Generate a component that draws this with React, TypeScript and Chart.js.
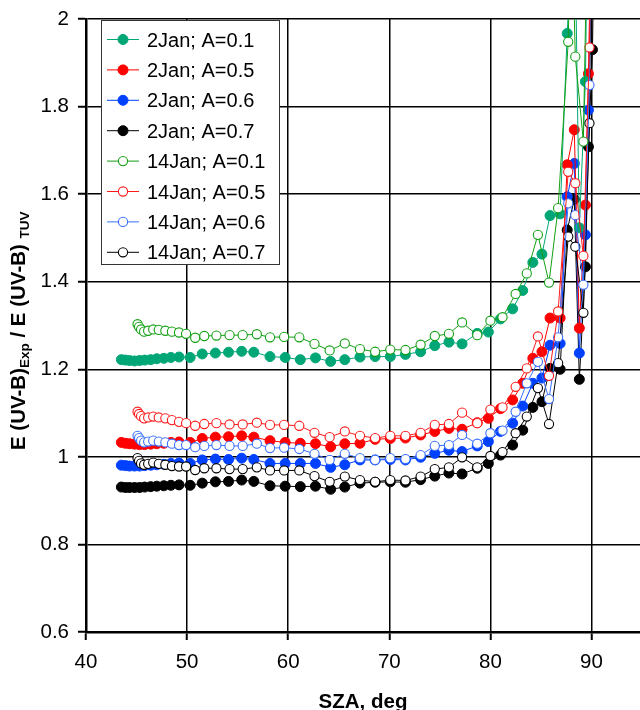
import React, { useEffect, useRef } from 'react';
import { Chart, registerables } from 'chart.js';

Chart.register(...registerables);

const FONT = '"Liberation Sans", Arial, Helvetica, sans-serif';

// Tick values
const xTicks = [40, 50, 60, 70, 80, 90];
const yTicks = [0.6, 0.8, 1, 1.2, 1.4, 1.6, 1.8, 2];

// Series labels
const seriesLabels = [
  '2Jan; A=0.1',
  '2Jan; A=0.5',
  '2Jan; A=0.6',
  '2Jan; A=0.7',
  '14Jan; A=0.1',
  '14Jan; A=0.5',
  '14Jan; A=0.6',
  '14Jan; A=0.7',
];

// SZA values (deg), 2 January
const sza2Jan = [
  43.5, 43.9, 44.3, 44.8, 45.3, 45.8, 46.4, 47.0, 47.7, 48.4, 49.2, 50.3,
  51.5, 52.8, 54.1, 55.4, 56.6, 58.2, 59.7, 61.2, 62.7, 64.2, 65.6, 67.1,
  68.6, 70.1, 71.6, 73.1, 74.5, 75.9, 77.2, 78.7, 79.8, 81.0, 82.2, 83.2,
  84.2, 85.1, 85.9, 86.9, 87.6, 88.3, 88.8, 89.4, 89.7, 90.1, 90.4,
];

const jan2A01 = [
  1.222, 1.221, 1.220, 1.219, 1.220, 1.221, 1.222, 1.224, 1.225, 1.227, 1.228, 1.227,
  1.235, 1.237, 1.239, 1.241, 1.239, 1.229, 1.227, 1.222, 1.226, 1.218, 1.222, 1.228,
  1.229, 1.229, 1.234, 1.240, 1.254, 1.262, 1.258, 1.282, 1.285, 1.315, 1.338, 1.380,
  1.444, 1.463, 1.551, 1.555, 1.967, 2.300, 1.523, 1.857, 2.400, null, null,
];
const jan2A05 = [
  1.033, 1.031, 1.030, 1.029, 1.028, 1.028, 1.029, 1.030, 1.031, 1.033, 1.034, 1.033,
  1.042, 1.045, 1.046, 1.048, 1.045, 1.037, 1.033, 1.031, 1.030, 1.023, 1.030, 1.031,
  1.040, 1.042, 1.043, 1.050, 1.058, 1.065, 1.063, 1.078, 1.088, 1.110, 1.130, 1.168,
  1.225, 1.240, 1.317, 1.317, 1.667, 1.747, 1.294, 1.575, 1.875, 2.400, null,
];
const jan2A06 = [
  0.981, 0.980, 0.979, 0.979, 0.979, 0.980, 0.981, 0.982, 0.983, 0.985, 0.986, 0.985,
  0.993, 0.995, 0.994, 0.997, 0.994, 0.985, 0.985, 0.985, 0.985, 0.976, 0.982, 0.993,
  0.993, 0.994, 0.993, 0.999, 1.008, 1.015, 1.012, 1.025, 1.035, 1.058, 1.077, 1.116,
  1.168, 1.180, 1.255, 1.259, 1.594, 1.670, 1.237, 1.507, 1.792, 2.400, null,
];
const jan2A07 = [
  0.931, 0.930, 0.930, 0.930, 0.930, 0.931, 0.932, 0.933, 0.934, 0.935, 0.936, 0.935,
  0.940, 0.943, 0.944, 0.947, 0.944, 0.934, 0.933, 0.932, 0.933, 0.926, 0.931, 0.940,
  0.942, 0.943, 0.942, 0.948, 0.956, 0.963, 0.961, 0.974, 0.985, 1.004, 1.027, 1.061,
  1.113, 1.126, 1.202, 1.200, 1.518, 1.588, 1.177, 1.434, 1.708, 1.930, 2.400,
];

// SZA values (deg), 14 January
const sza14Jan = [
  45.1, 45.25, 45.45, 45.75, 46.15, 46.65, 47.2, 47.85, 48.5, 49.2, 49.9, 50.8,
  51.7, 52.9, 54.2, 55.5, 56.9, 58.2, 59.6, 61.1, 62.6, 64.1, 65.6, 67.1,
  68.6, 70.1, 71.6, 73.1, 74.5, 75.9, 77.2, 78.7, 80.0, 81.2, 82.5, 83.6,
  84.7, 85.8, 86.7, 87.7, 88.0, 88.4, 89.2, 89.8, 90.1,
];

const jan14A01 = [
  1.303, 1.297, 1.291, 1.286, 1.288, 1.291, 1.290, 1.288, 1.286, 1.284, 1.281, 1.272,
  1.276, 1.277, 1.278, 1.278, 1.280, 1.273, 1.274, 1.273, 1.258, 1.243, 1.259, 1.246,
  1.240, 1.245, 1.244, 1.256, 1.276, 1.281, 1.307, 1.278, 1.311, 1.319, 1.372, 1.419,
  1.507, 1.398, 1.568, 1.948, 2.300, 1.914, 1.720, 2.500, null,
];
const jan14A05 = [
  1.103, 1.098, 1.093, 1.088, 1.090, 1.092, 1.090, 1.088, 1.084, 1.080, 1.077, 1.071,
  1.075, 1.077, 1.074, 1.074, 1.078, 1.073, 1.073, 1.071, 1.055, 1.045, 1.058, 1.048,
  1.043, 1.048, 1.048, 1.055, 1.073, 1.075, 1.101, 1.077, 1.108, 1.113, 1.160, 1.202,
  1.275, 1.185, 1.332, 1.651, null, 1.625, 1.459, 1.935, 2.500,
];
const jan14A06 = [
  1.048, 1.043, 1.037, 1.033, 1.035, 1.037, 1.035, 1.033, 1.030, 1.027, 1.027, 1.022,
  1.025, 1.027, 1.025, 1.025, 1.030, 1.020, 1.021, 1.018, 1.007, 0.993, 1.007, 0.997,
  0.993, 0.997, 0.995, 1.004, 1.025, 1.027, 1.050, 1.030, 1.054, 1.060, 1.103, 1.168,
  1.217, 1.132, 1.273, 1.579, null, 1.552, 1.393, 1.849, 2.500,
];
const jan14A07 = [
  0.997, 0.991, 0.985, 0.982, 0.984, 0.987, 0.984, 0.982, 0.979, 0.978, 0.978, 0.970,
  0.974, 0.974, 0.972, 0.972, 0.976, 0.969, 0.969, 0.969, 0.956, 0.943, 0.955, 0.947,
  0.943, 0.947, 0.946, 0.955, 0.972, 0.976, 0.999, 0.976, 1.002, 1.011, 1.054, 1.092,
  1.157, 1.075, 1.214, 1.503, null, 1.480, 1.329, 1.762, 2.500,
];

const lineColors = ['#00a676', '#ff0000', '#0040ff', '#000000', '#12a012', '#ff1a1a', '#3a70ff', '#000000'];

function toPoints(xs: number[], ys: (number | null)[]) {
  const out: { x: number; y: number }[] = [];
  xs.forEach((x, i) => {
    const y = ys[i];
    if (y !== null && y !== undefined) out.push({ x, y });
  });
  return out;
}

function filledDataset(i: number, xs: number[], ys: (number | null)[]) {
  const c = lineColors[i];
  return {
    label: seriesLabels[i],
    data: toPoints(xs, ys),
    showLine: true,
    borderColor: c,
    backgroundColor: c,
    borderWidth: 1,
    pointRadius: 5,
    pointBorderWidth: 1,
    pointBackgroundColor: c,
    pointBorderColor: c,
    order: 1,
  };
}

function openDataset(i: number, xs: number[], ys: (number | null)[]) {
  const c = lineColors[i];
  return {
    label: seriesLabels[i],
    data: toPoints(xs, ys),
    showLine: true,
    borderColor: c,
    backgroundColor: '#ffffff',
    borderWidth: 1,
    pointRadius: 4.6,
    pointBorderWidth: 1.1,
    pointBackgroundColor: '#ffffff',
    pointBorderColor: c,
    order: 0,
  };
}

const legendPlugin = {
  id: 'boxLegend',
  afterDraw(chart: any) {
    const ctx = chart.ctx as CanvasRenderingContext2D;
    ctx.save();
    const left = 101.5, top = 20.5, w = 178, h = 244;
    ctx.fillStyle = '#ffffff';
    ctx.fillRect(left, top, w, h);
    ctx.strokeStyle = '#333333';
    ctx.lineWidth = 1;
    ctx.strokeRect(left, top, w, h);
    chart.data.datasets.forEach((ds: any, i: number) => {
      const y = 39.5 + i * 30.4;
      ctx.strokeStyle = ds.borderColor;
      ctx.lineWidth = 1;
      ctx.beginPath();
      ctx.moveTo(107, y);
      ctx.lineTo(139, y);
      ctx.stroke();
      ctx.beginPath();
      ctx.arc(123, y, ds.pointRadius, 0, Math.PI * 2);
      ctx.fillStyle = ds.pointBackgroundColor;
      ctx.fill();
      ctx.lineWidth = ds.pointBorderWidth;
      ctx.strokeStyle = ds.pointBorderColor;
      ctx.stroke();
      ctx.fillStyle = '#000000';
      ctx.font = `20px ${FONT}`;
      ctx.textAlign = 'left';
      ctx.textBaseline = 'alphabetic';
      ctx.fillText(ds.label, 147, y + 7);
    });
    ctx.restore();
  },
};

const titlePlugin = {
  id: 'axisTitles',
  afterDraw(chart: any) {
    const ctx = chart.ctx as CanvasRenderingContext2D;
    const area = chart.chartArea;
    ctx.save();
    ctx.fillStyle = '#000000';
    // X title
    ctx.font = `bold 20.5px ${FONT}`;
    ctx.textAlign = 'center';
    ctx.textBaseline = 'alphabetic';
    ctx.fillText('SZA, deg', (area.left + area.right) / 2, 708);
    // Y title with subscripts
    const main = `bold 20.5px ${FONT}`;
    const sub = `bold 13.5px ${FONT}`;
    const parts: [string, boolean][] = [
      ['E (UV-B)', false],
      ['Exp', true],
      [' / E (UV-B) ', false],
      ['TUV', true],
    ];
    ctx.translate(24.5, 450);
    ctx.rotate(-Math.PI / 2);
    ctx.textAlign = 'left';
    let x = 0;
    parts.forEach(([t, isSub]) => {
      ctx.font = isSub ? sub : main;
      ctx.fillText(t, x, isSub ? 4 : 0);
      x += ctx.measureText(t).width;
    });
    ctx.restore();
  },
};

export default function App() {
  const canvasRef = useRef<HTMLCanvasElement | null>(null);

  useEffect(() => {
    const canvas = canvasRef.current;
    if (!canvas) return;
    const datasets = [
      filledDataset(0, sza2Jan, jan2A01),
      filledDataset(1, sza2Jan, jan2A05),
      filledDataset(2, sza2Jan, jan2A06),
      filledDataset(3, sza2Jan, jan2A07),
      openDataset(4, sza14Jan, jan14A01),
      openDataset(5, sza14Jan, jan14A05),
      openDataset(6, sza14Jan, jan14A06),
      openDataset(7, sza14Jan, jan14A07),
    ];
    const chart = new Chart(canvas, {
      type: 'scatter',
      data: { datasets: datasets as any },
      options: {
        animation: false,
        responsive: false,
        devicePixelRatio: 1,
        layout: { autoPadding: false, padding: { top: 19, right: 0, left: 0, bottom: 0 } },
        plugins: {
          legend: { display: false },
          tooltip: { enabled: false },
        },
        scales: {
          x: {
            type: 'linear',
            min: 40,
            max: 94.8,
            afterFit: (s: any) => {
              s.height = 78;
              s.paddingLeft = 0;
              s.paddingRight = 0;
            },
            afterBuildTicks: (s: any) => { s.ticks = xTicks.map((v) => ({ value: v })); },
            ticks: {
              color: '#000',
              font: { family: FONT, size: 20.5 },
              padding: 10,
              maxRotation: 0,
              callback: (v: any) => String(v),
            },
            grid: {
              color: '#000',
              lineWidth: 1.5,
              tickLength: 8,
              tickColor: '#000',
              tickWidth: 2,
            },
            border: { color: '#000', width: 2.5 },
          },
          y: {
            type: 'linear',
            min: 0.6,
            max: 2,
            afterFit: (s: any) => {
              s.width = 86;
              s.paddingTop = 0;
              s.paddingBottom = 0;
            },
            afterBuildTicks: (s: any) => { s.ticks = yTicks.map((v) => ({ value: v })); },
            ticks: {
              color: '#000',
              font: { family: FONT, size: 20.5 },
              padding: 9,
              callback: (v: any) => String(v),
            },
            grid: {
              color: '#000',
              lineWidth: 1.5,
              tickLength: 8,
              tickColor: '#000',
              tickWidth: 2,
            },
            border: { color: '#000', width: 2.5 },
          },
        },
      },
      plugins: [legendPlugin, titlePlugin],
    });
    return () => chart.destroy();
  }, []);

  return (
    <div style={{ position: 'absolute', left: 0, top: 0, width: 640, height: 710, background: '#fff' }}>
      <canvas ref={canvasRef} width={640} height={710} style={{ display: 'block' }} />
    </div>
  );
}
